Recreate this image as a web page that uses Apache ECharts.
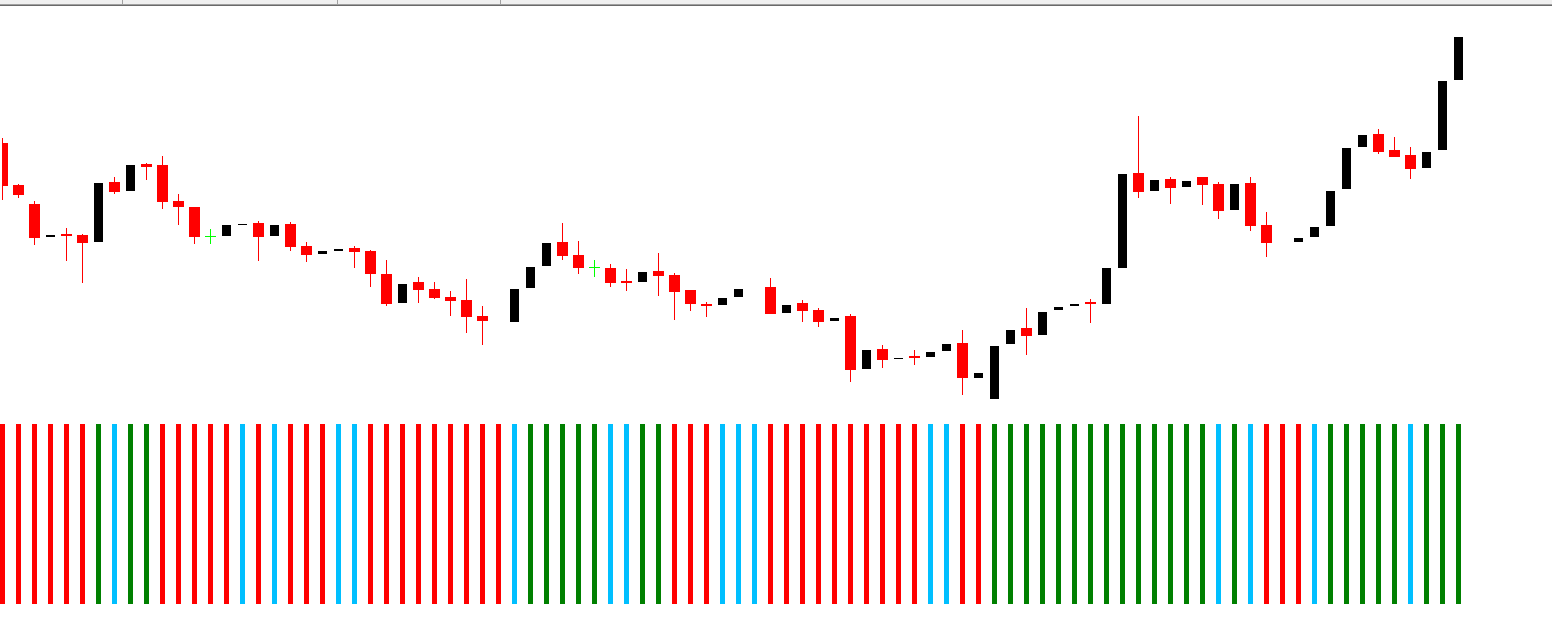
<!DOCTYPE html>
<html>
<head>
<meta charset="utf-8">
<script src="https://cdn.jsdelivr.net/npm/echarts@6/dist/echarts.min.js"></script>
<style>
html,body{margin:0;padding:0;background:#fff;}
#chart{width:1552px;height:634px;}
</style>
</head>
<body>
<div id="chart"></div>
<script>
// Candle values (price units), one entry per bar
const opens  = [277,235,216,182,186,185,177,238,228,256,255,219,213,184,183,194,197,183,196,174,165,168,172,169,146,116,138,131,123,120,104,98,97,131,153,178,165,153,152,139,137,149,145,130,116,114,122,131,133,106,117,110,98,104,50,71,60,64,62,68,77,41,20,75,92,84,109,113,118,115,151,247,228,241,232,243,236,209,237,195,177,177,182,193,230,272,286,270,265,251,269,339];
const highs  = [282,236,219,186,192,186,238,243,256,257,264,226,213,191,196,197,199,196,198,178,170,172,174,170,160,137,143,138,129,141,114,99,132,154,178,197,179,160,156,151,149,167,147,130,118,123,132,132,142,116,120,112,103,106,71,75,63,70,69,77,90,48,75,91,112,109,114,117,121,153,247,304,241,243,240,243,238,237,243,208,178,183,194,230,273,286,291,283,273,269,340,384];
const lows   = [220,222,175,182,159,137,177,226,228,240,211,195,176,176,183,194,159,183,169,158,165,168,152,133,114,116,117,121,104,87,75,98,97,131,153,160,146,143,133,129,137,124,100,109,103,114,122,131,106,106,98,93,98,38,50,52,60,55,62,68,25,41,20,75,65,84,109,113,97,115,151,222,228,216,232,215,201,209,189,163,177,177,182,193,230,272,266,263,241,251,269,339];
const closes = [234,225,182,186,184,177,238,228,256,253,218,213,183,184,196,197,183,196,173,165,170,172,168,146,116,137,130,122,119,103,99,99,132,154,178,164,152,153,137,137,149,144,128,116,114,123,132,132,106,116,109,98,103,50,71,60,63,62,69,77,42,48,75,91,84,109,114,117,116,153,247,228,241,232,240,235,209,237,194,177,178,183,194,230,273,286,268,263,251,269,340,384];
// Indicator state per bar: 1 = up (green), 0 = neutral (blue), -1 = down (red)
const trendState = [-1,-1,-1,-1,-1,-1,1,0,1,1,-1,-1,-1,-1,-1,0,-1,0,-1,-1,-1,0,0,-1,-1,-1,-1,-1,-1,-1,-1,-1,0,1,1,1,1,1,0,0,1,1,-1,-1,-1,0,0,0,-1,-1,-1,-1,-1,-1,-1,-1,-1,-1,0,0,-1,-1,1,1,1,1,1,1,1,1,1,1,1,1,1,1,0,1,0,-1,-1,-1,0,1,1,1,1,1,0,1,1,1];

const BEAR = '#ff0000', BULL = '#000000', DOJI = '#00ff00';
const STATE_COLORS = {'1': '#008000', '0': '#00bfff', '-1': '#ff0000'};

const candleData = opens.map((o, i) => [i, o, highs[i], lows[i], closes[i]]);
const barData = trendState.map((s, i) => ({value: [i, 1], itemStyle: {color: STATE_COLORS[String(s)]}}));

const N = opens.length;
const xMin = -0.03125;
const xMax = xMin + 1550 / 16;

const chart = echarts.init(document.getElementById('chart'), null, {renderer: 'canvas'});

function renderCandle(params, api) {
  const i = api.value(0), o = api.value(1), h = api.value(2), l = api.value(3), c = api.value(4);
  const po = api.coord([i, o]), pc = api.coord([i, c]);
  const ph = api.coord([i, h]), pl = api.coord([i, l]);
  const cx = po[0];
  const bw = 11;
  const xl = Math.round(cx - bw / 2);
  const wx = Math.floor(cx) + 0.5;
  const children = [];
  if (c > o) {
    // bull: black body inset by white border, wick invisible
    const top = pc[1] + 1, bot = po[1] - 1;
    if (bot - top > 0) {
      children.push({type: 'rect', shape: {x: xl + 1, y: top, width: bw - 2, height: bot - top}, style: {fill: BULL}});
    }
  } else if (c < o) {
    children.push({type: 'line', shape: {x1: wx, y1: ph[1], x2: wx, y2: pl[1]}, style: {stroke: BEAR, lineWidth: 1}});
    children.push({type: 'rect', shape: {x: xl, y: po[1], width: bw, height: pc[1] - po[1]}, style: {fill: BEAR}});
  } else {
    const yy = Math.floor(po[1]) + 0.5;
    children.push({type: 'line', shape: {x1: wx, y1: ph[1], x2: wx, y2: pl[1]}, style: {stroke: DOJI, lineWidth: 1}});
    children.push({type: 'line', shape: {x1: xl, y1: yy, x2: xl + bw, y2: yy}, style: {stroke: DOJI, lineWidth: 1}});
  }
  return {type: 'group', children};
}

const option = {
  backgroundColor: '#ffffff',
  animation: false,
  grid: [
    {left: 2, top: 0, width: 1550, height: 420},
    {left: 2, top: 424, width: 1550, height: 180}
  ],
  xAxis: [
    {type: 'value', gridIndex: 0, min: xMin, max: xMax, show: false},
    {type: 'value', gridIndex: 1, min: xMin, max: xMax, show: false}
  ],
  yAxis: [
    {type: 'value', gridIndex: 0, min: 0, max: 420, show: false},
    {type: 'value', gridIndex: 1, min: 0, max: 1, show: false}
  ],
  series: [
    {
      type: 'custom',
      xAxisIndex: 0, yAxisIndex: 0,
      clip: true,
      renderItem: renderCandle,
      encode: {x: 0, y: [1, 2, 3, 4]},
      data: candleData
    },
    {
      type: 'bar',
      xAxisIndex: 1, yAxisIndex: 1,
      barWidth: 5,
      data: barData
    }
  ],
  graphic: [
    {type: 'rect', shape: {x: 0, y: 0, width: 1552, height: 4}, style: {fill: '#f0f0f0'}, silent: true},
    {type: 'rect', shape: {x: 0, y: 4, width: 1552, height: 1}, style: {fill: '#a0a0a0'}, silent: true},
    {type: 'rect', shape: {x: 0, y: 5, width: 1552, height: 1}, style: {fill: '#6a6a6a'}, silent: true},
    {type: 'rect', shape: {x: 122, y: 0, width: 1, height: 4}, style: {fill: '#a0a0a0'}, silent: true},
    {type: 'rect', shape: {x: 337, y: 0, width: 1, height: 4}, style: {fill: '#a0a0a0'}, silent: true},
    {type: 'rect', shape: {x: 500, y: 0, width: 1, height: 4}, style: {fill: '#a0a0a0'}, silent: true}
  ]
};
chart.setOption(option);
</script>
</body>
</html>
